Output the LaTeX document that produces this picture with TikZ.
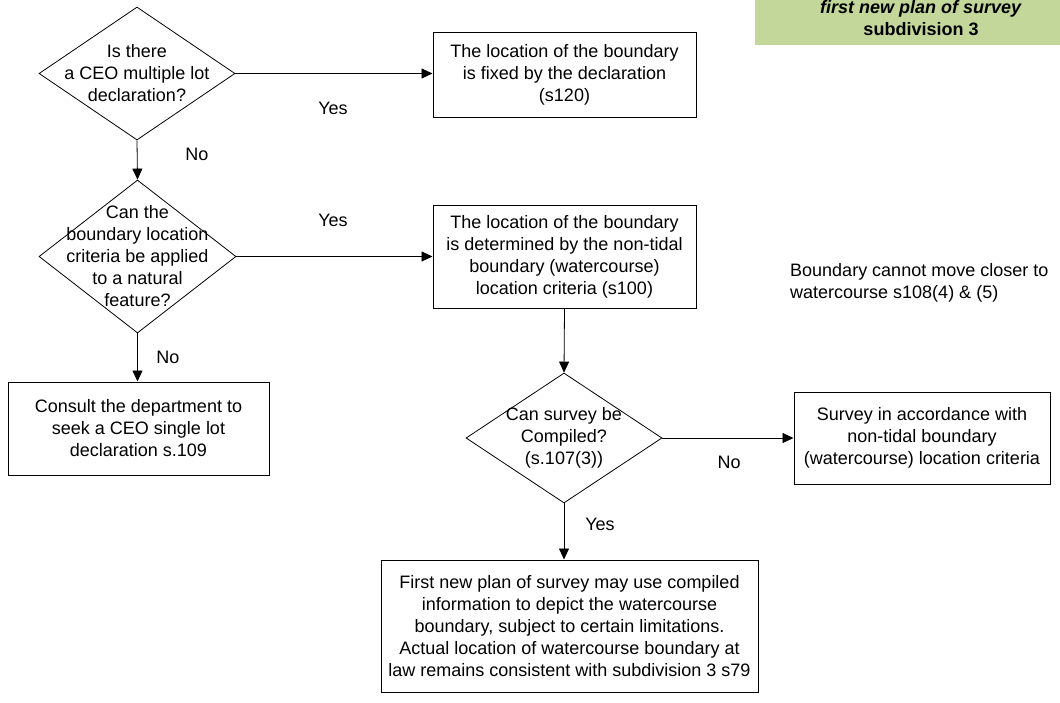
\documentclass[tikz,border=0pt]{standalone}
\usepackage{fontspec}
\setmainfont{Liberation Sans}
\usetikzlibrary{shapes.geometric,arrows.meta}
\definecolor{hdrgreen}{RGB}{196,215,155}
\begin{document}
\begin{tikzpicture}[x=1pt,y=-1pt,
  every node/.style={font=\fontsize{18}{22}\selectfont, text=black},
  dia/.style={draw, shape=diamond, inner sep=0pt, line width=0.8pt},
  box/.style={draw, rectangle, align=center, inner sep=0pt, line width=1pt},
  txt/.style={align=center, inner sep=0pt},
  arr/.style={line width=0.8pt, -{Triangle[length=11pt,width=10pt]}}]
\useasboundingbox (0,0) rectangle (1060,702);
\clip (0,0) rectangle (1060,702);
\fill[hdrgreen] (755,-20) rectangle (1062,45);
\node[txt] (hdr) at (921,18) {\textbf{\textit{first new plan of survey}}\\\textbf{subdivision 3}};

% decisions
\node[dia, minimum width=196pt, minimum height=133pt] (d1) at (137,73.5) {};
\node[txt] (d1t) at (d1.center) {Is there\\a CEO multiple lot\\declaration?};
\node[dia, minimum width=197pt, minimum height=153pt] (d2) at (137.5,256.5) {};
\node[txt] (d2t) at (d2.center) {Can the\\boundary location\\criteria be applied\\to a natural\\feature?};
\node[dia, minimum width=196pt, minimum height=130pt] (d3) at (564,438) {};
\node[txt] (d3t) at (d3.center) {Can survey be\\Compiled?\\(s.107(3))};

% boxes
\node[box, minimum width=263pt, minimum height=85pt] (b1) at (564.5,74.5)
  {The location of the boundary\\is fixed by the declaration\\(s120)};
\node[box, minimum width=263pt, minimum height=103pt] (b2) at (564.5,256.5)
  {The location of the boundary\\is determined by the non-tidal\\boundary (watercourse)\\location criteria (s100)};
\node[box, minimum width=261pt, minimum height=93pt] (b5) at (138.5,428.5)
  {Consult the department to\\seek a CEO single lot\\declaration s.109};
\node[box, minimum width=256pt, minimum height=92pt] (b3) at (922,438)
  {Survey in accordance with\\non-tidal boundary\\(watercourse) location criteria};
\node[box, minimum width=377pt, minimum height=132pt] (b4) at (569.5,626)
  {First new plan of survey may use compiled\\information to depict the watercourse\\boundary, subject to certain limitations.\\Actual location of watercourse boundary at\\law remains consistent with subdivision 3 s79};

\node[anchor=west, align=left, inner sep=0pt] (note) at (790,282.5)
  {Boundary cannot move closer to\\watercourse s108(4) \& (5)};

% connectors
\draw[arr] (d1.east) -- (b1.west |- d1.east);
\draw[arr] (d1.south) -- (d2.north);
\draw[arr] (d2.east) -- (b2.west);
\draw[arr] (d2.south) -- (b5.north -| d2.south);
\draw[arr] (b2.south) -- (d3.north);
\draw[arr] (d3.east) -- (b3.west);
\draw[arr] (d3.south) -- (d3.south |- b4.north);

% labels
\node (l1) at (333,108) {Yes};
\node (l2) at (197,154) {No};
\node (l3) at (333,220) {Yes};
\node (l4) at (168,357) {No};
\node (l5) at (729,462) {No};
\node (l6) at (600,524) {Yes};
\end{tikzpicture}
\end{document}
